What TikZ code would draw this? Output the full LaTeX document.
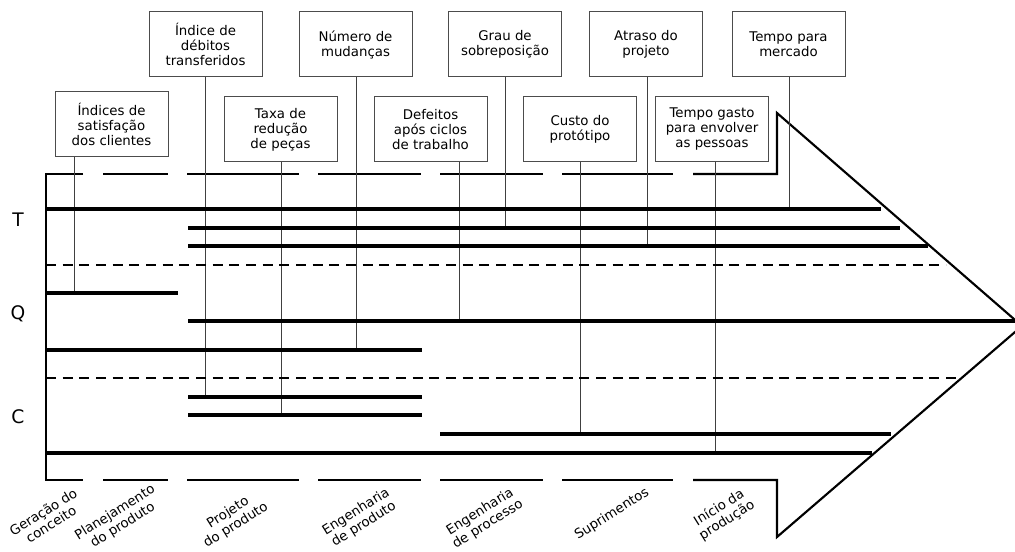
\documentclass[tikz,border=0pt]{standalone}
\usepackage{fontspec}
\setmainfont{DejaVu Sans}
\usepackage{tikz}

\newcommand\kpifont{\fontsize{10}{11.25}\selectfont}
\newcommand\phasefont{\fontsize{10}{11}\selectfont}
\newcommand\dimfont{\fontsize{14}{16}\selectfont}

\tikzset{
  kpi/.style={draw=black!70, line width=0.75pt, minimum width=84.75pt,
    minimum height=48.75pt, inner sep=0pt, align=center, font=\kpifont},
  stem/.style={line width=0.75pt, draw=black!75},
  bar/.style={line width=3.6pt},
  divider/.style={line width=2.2pt, dash pattern=on 7.5pt off 5pt},
  frame/.style={line width=1.6pt, line join=miter},
  phase/.style={rotate=32, align=center, font=\phasefont, inner sep=1pt},
  dim/.style={font=\dimfont}
}

\begin{document}
\begin{tikzpicture}[x=0.75pt, y=-0.75pt]
      \useasboundingbox (0,0) rectangle (1015,552);

      % arrow outline
      \draw[frame] (83,174) -- (46,174) -- (46,480) -- (83,480);
      \draw[frame] (103,174) -- (168,174) (187,174) -- (299,174) (318,174) -- (421,174)
                   (440,174) -- (543,174) (562,174) -- (673,174);
      \draw[frame] (103,480) -- (168,480) (187,480) -- (299,480) (318,480) -- (421,480)
                   (440,480) -- (543,480) (562,480) -- (673,480);
      \draw[frame] (693,174) -- (777,174) -- (777,113) -- (1022,326) -- (777,537)
                   -- (777,480) -- (693,480);

      % dimensions
      \node[dim] (T) at (18,220) {T};
      \node[dim] (Q) at (18,314) {Q};
      \node[dim] (C) at (18,417) {C};

      % indicators
      \node[kpi] (debitos) at (205.5,44.5) {Índice de\\débitos\\transferidos};
      \node[kpi] (mudancas) at (355.5,44.5) {Número de\\mudanças};
      \node[kpi] (sobrepos) at (505,44.5) {Grau de\\sobreposição};
      \node[kpi] (atraso) at (646,44.5) {Atraso do\\projeto};
      \node[kpi] (mercado) at (788.5,44.5) {Tempo para\\mercado};
      \node[kpi] (satisf) at (111.5,124.5) {Índices de\\satisfação\\dos clientes};
      \node[kpi] (pecas) at (280.5,129.5) {Taxa de\\redução\\de peças};
      \node[kpi] (defeitos) at (430.5,129.5) {Defeitos\\após ciclos\\de trabalho};
      \node[kpi] (custo) at (580,129.5) {Custo do\\protótipo};
      \node[kpi] (pessoas) at (712,129.5) {Tempo gasto\\para envolver\\as pessoas};

      % feet on the bars
      \coordinate (fdebitos) at (205,397);
      \coordinate (fmudancas) at (356,350);
      \coordinate (fsobrepos) at (505,228);
      \coordinate (fatraso) at (647,246);
      \coordinate (fmercado) at (789,209);
      \coordinate (fsatisf) at (74,293);
      \coordinate (fpecas) at (281,415);
      \coordinate (fdefeitos) at (459,321);
      \coordinate (fcusto) at (580,434);
      \coordinate (fpessoas) at (715,453);

      \draw[stem] (debitos.south -| fdebitos) -- (fdebitos);
      \draw[stem] (mudancas.south -| fmudancas) -- (fmudancas);
      \draw[stem] (sobrepos.south -| fsobrepos) -- (fsobrepos);
      \draw[stem] (atraso.south -| fatraso) -- (fatraso);
      \draw[stem] (mercado.south -| fmercado) -- (fmercado);
      \draw[stem] (satisf.south -| fsatisf) -- (fsatisf);
      \draw[stem] (pecas.south -| fpecas) -- (fpecas);
      \draw[stem] (defeitos.south -| fdefeitos) -- (fdefeitos);
      \draw[stem] (custo.south -| fcusto) -- (fcusto);
      \draw[stem] (pessoas.south -| fpessoas) -- (fpessoas);

      % T
      \draw[bar] (46,209) -- (881,209);
      \draw[bar] (188,228) -- (900,228);
      \draw[bar] (188,246) -- (928,246);
      \draw[divider] (46,265) -- (946,265);
      % Q
      \draw[bar] (46,293) -- (178,293);
      \draw[bar] (188,321) -- (1015,321);
      \draw[bar] (46,350) -- (422,350);
      \draw[divider] (46,378) -- (956,378);
      % C
      \draw[bar] (188,397) -- (422,397);
      \draw[bar] (188,415) -- (422,415);
      \draw[bar] (440,434) -- (891,434);
      \draw[bar] (46,453) -- (872,453);

      % phases
      \node[phase] (geracao) at (47,518) {Geração do\\conceito};
      \node[phase] (planej) at (119,519) {Planejamento\\do produto};
      \node[phase] (projeto) at (232,519) {Projeto\\do produto};
      \node[phase] (engprod) at (360,518) {Engenharia\\de produto};
      \node[phase] (engproc) at (484,518) {Engenharia\\de processo};
      \node[phase] (suprim) at (612,514) {Suprimentos};
      \node[phase] (inicio) at (723,514) {Início da\\produção};
    \end{tikzpicture}
\end{document}
